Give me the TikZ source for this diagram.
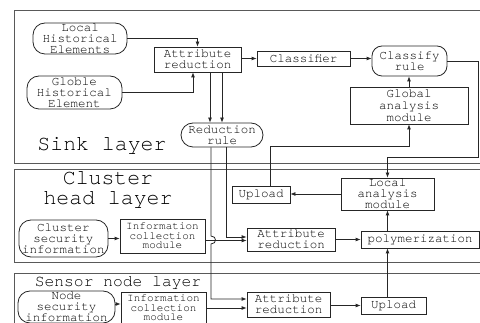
\documentclass[tikz,border=0pt]{standalone}
\usepackage{fontspec}
\setmonofont{TeX Gyre Cursor}
\usetikzlibrary{arrows.meta,calc}
\begin{document}
\begin{tikzpicture}[x=1pt,y=-1pt,
 box/.style={draw=black!85, line width=0.8pt, inner sep=0pt, align=center, font=\ttfamily\fontsize{12.5}{11}\selectfont},
 rbox/.style={box, rounded corners=12pt},
 small/.style={font=\ttfamily\fontsize{11}{9.6}\selectfont},
 arr/.style={-{Latex[length=5pt,width=4pt]}, line width=0.8pt, draw=black!85},
 layerframe/.style={line width=0.9pt, draw=black!65},
 biglabel/.style={align=center, inner sep=0pt, font=\ttfamily\fontsize{21.5}{20}\selectfont}]
\useasboundingbox (0,0) rectangle (480,323);
\clip (0,0) rectangle (480,323);

% layer frames
\draw[layerframe] (481,10) -- (14,10) -- (14,163) -- (481,163);
\draw[layerframe] (481,169) -- (14,169) -- (14,262) -- (481,262);
\draw[layerframe] (481,273) -- (14,273) -- (14,330);

% layer labels
\node[biglabel] (sinkl) at (102,146) {Sink layer};
\node[biglabel] (clul) at (108,190) {Cluster\\head layer};
\node[biglabel, font=\ttfamily\fontsize{16.3}{16}\selectfont] (senl) at (118,283) {Sensor node layer};

% sink layer
\node[rbox, minimum width=94pt, minimum height=31pt] (lhe) at (80,38.5) {Local\\Historical\\Elements};
\node[rbox, minimum width=95pt, minimum height=33pt] (ghe) at (74.5,92.5) {Globle\\Historical\\Element};
\node[box, minimum width=87pt, minimum height=25pt] (ar1) at (197.5,59.5) {Attribute\\reduction};
\node[box, minimum width=93pt, minimum height=15pt] (cls) at (303.5,58.5) {Classifier};
\node[rbox, rounded corners=10pt, minimum width=75pt, minimum height=30pt] (cr) at (409.5,61) {Classify\\rule};
\node[box, minimum width=118pt, minimum height=37pt, font=\ttfamily\fontsize{12.5}{12}\selectfont] (gam) at (409,105.5) {Global\\analysis\\module};
\node[rbox, minimum width=82pt, minimum height=24pt] (rr) at (222,135) {Reduction\\rule};

% cluster head layer
\node[box, minimum width=58pt, minimum height=17pt] (up1) at (261,194.5) {Upload};
\node[box, minimum width=93pt, minimum height=32pt] (lam) at (387.5,194) {Local\\analysis\\module};
\node[rbox, minimum width=89pt, minimum height=37pt] (csi) at (63.5,238.5) {Cluster\\security\\information};
\node[box, small, minimum width=85pt, minimum height=34pt] (icm1) at (162.5,236) {Information\\collection\\module};
\node[box, minimum width=88pt, minimum height=23pt] (ar2) at (291,239.5) {Attribute\\reduction};
\node[box, minimum width=118pt, minimum height=17pt] (poly) at (420,239.5) {polymerization};

% sensor node layer
\node[rbox, minimum width=97pt, minimum height=32pt, font=\ttfamily\fontsize{12.5}{11.2}\selectfont] (nsi) at (66.5,307) {Node\\security\\information};
\node[box, small, minimum width=85pt, minimum height=32pt] (icm2) at (163.5,308) {Information\\collection\\module};
\node[box, minimum width=83pt, minimum height=25pt] (ar3) at (288.5,304.5) {Attribute\\reduction};
\node[box, minimum width=65pt, minimum height=17pt] (up2) at (393.5,305.5) {Upload};

% connectors, sink layer
\draw[arr] (lhe.east) -| (ar1.north);
\draw[arr] (ghe.east) -| ([xshift=-4.5pt]ar1.south);
\draw[arr] (ar1.east |- cls.west) -- (cls.west);
\draw[arr] (cls.east) -- (cr.west |- cls.east);
\draw[arr] (gam.north) -- (gam.north |- cr.south);
\draw[arr] ([xshift=12.5pt]ar1.south) -- ([xshift=-12pt]rr.north);
\draw[arr] ([xshift=24.5pt]ar1.south) -- (rr.north);

% from reduction rule down
\draw[arr] ([xshift=-11pt]rr.south) -- (211,236) .. controls (217,236) and (217,244) .. (211,244) -- (211,299) -- ([yshift=5.5pt]ar3.west);
\draw[arr] ([xshift=4pt]rr.south) |- ([yshift=2.5pt]ar2.west);

% cluster head layer
\draw[arr] (csi.east) -- (csi.east -| icm1.west);
\draw[arr] ([yshift=-4.5pt]icm1.east) -- ([yshift=-4.5pt]icm1.east -| ar2.west);
\draw[arr] (ar2.east) -- (poly.west);
\draw[arr] (poly.north -| lam.south) -- (lam.south);
\draw[arr] (lam.west) -- (lam.west -| up1.east);
\draw[arr] ([xshift=9pt]up1.north) -- ++(0,-39) -| (gam.south);
\draw[arr] (cr.east) -- (478,61) -- (478,157) -| (lam.north);

% sensor node layer
\draw[arr] ([yshift=3pt]nsi.east) -- ([yshift=3pt]nsi.east -| icm2.west);
\draw[arr] (icm2.east) -- (icm2.east -| ar3.west);
\draw[arr] (ar3.east |- up2.west) -- (up2.west);
\draw[arr] ([xshift=-6pt]up2.north) -- ([xshift=-6pt]up2.north |- poly.south);
\end{tikzpicture}
\end{document}
